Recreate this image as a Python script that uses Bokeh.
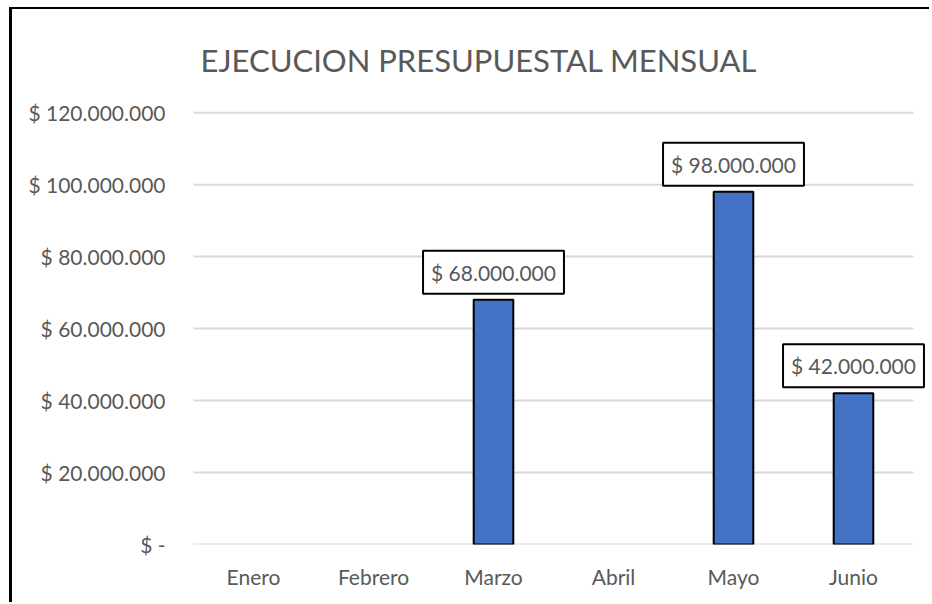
from bokeh.plotting import figure
from bokeh.models import ColumnDataSource, FixedTicker, Label, FactorRange
from bokeh.transform import dodge
from bokeh.embed import file_html
from bokeh.resources import INLINE

# ---- data ----
months = ["Enero", "Febrero", "Marzo", "Abril", "Mayo", "Junio"]
values = [0, 0, 68000000, 0, 98000000, 42000000]
y_ticks = [0, 20000000, 40000000, 60000000, 80000000, 100000000, 120000000]
y_tick_labels = ["$ -", "$ 20.000.000", "$ 40.000.000", "$ 60.000.000",
                 "$ 80.000.000", "$ 100.000.000", "$ 120.000.000"]
title_text = "EJECUCION PRESUPUESTAL MENSUAL"

FONT = "Lato"
GRAY = "#595959"

def fmt(v):
    return "$ " + f"{v:,}".replace(",", ".")

nz = [(m, v) for m, v in zip(months, values) if v != 0]
src = ColumnDataSource(dict(
    month=[m for m, v in nz],
    value=[v for m, v in nz],
))

x_range = FactorRange(factors=months, range_padding=0.125,
                      range_padding_units="absolute")

p = figure(x_range=x_range, y_range=(0, 120600000),
           width=920, height=595,
           output_backend="svg", toolbar_location=None,
           min_border_left=166, min_border_right=4,
           min_border_top=101, min_border_bottom=60)
p.styles = {"margin-left": "9px", "margin-top": "7px",
            "border-left": "3px solid black", "border-top": "2px solid black"}

p.title.text = title_text
p.title.align = "left"
p.title.offset = 22
p.title.standoff = 61
p.title.vertical_align = "middle"
p.title.text_font = FONT
p.title.text_font_size = "31px"
p.title.text_font_style = "normal"
p.title.text_color = GRAY

p.outline_line_color = None
p.background_fill_color = "white"
p.border_fill_color = "white"

# horizontal gridlines spanning the category bands only
grid_src = ColumnDataSource(dict(
    y=y_ticks,
    x0=[months[0]] * len(y_ticks),
    x1=[months[-1]] * len(y_ticks),
))
p.segment(x0=dodge("x0", -0.5, range=p.x_range), y0="y",
          x1=dodge("x1", 0.5, range=p.x_range), y1="y",
          source=grid_src, line_color="#D9D9D9", line_width=2)

p.vbar(x="month", top="value", width=0.33, source=src,
       fill_color="#4472C4", line_color="black", line_width=2)

for m, v in nz:
    # categorical factor m sits at synthetic coordinate index + 0.5
    p.add_layout(Label(x=months.index(m) + 0.5, y=v, text=fmt(v),
                       text_align="center", text_baseline="bottom",
                       y_offset=6, text_font=FONT, text_font_size="21px",
                       text_color=GRAY, level="overlay",
                       background_fill_color="white",
                       border_line_color="black", border_line_width=2,
                       padding=[8, 9]))

# axes
p.yaxis.ticker = FixedTicker(ticks=y_ticks)
p.yaxis.major_label_overrides = {t: l for t, l in zip(y_ticks, y_tick_labels)}
p.yaxis.axis_line_color = None
p.yaxis.major_tick_line_color = None
p.yaxis.minor_tick_line_color = None
p.yaxis.major_label_standoff = 7
p.yaxis.major_label_text_font = FONT
p.yaxis.major_label_text_font_size = "21px"
p.yaxis.major_label_text_color = GRAY

p.xaxis.axis_line_color = None
p.xaxis.major_tick_line_color = None
p.xaxis.major_label_standoff = 13
p.xaxis.major_label_text_font = FONT
p.xaxis.major_label_text_font_size = "21px"
p.xaxis.major_label_text_color = GRAY

p.xgrid.grid_line_color = None
p.ygrid.grid_line_color = None

open("out.html", "w").write(file_html(p, INLINE))
